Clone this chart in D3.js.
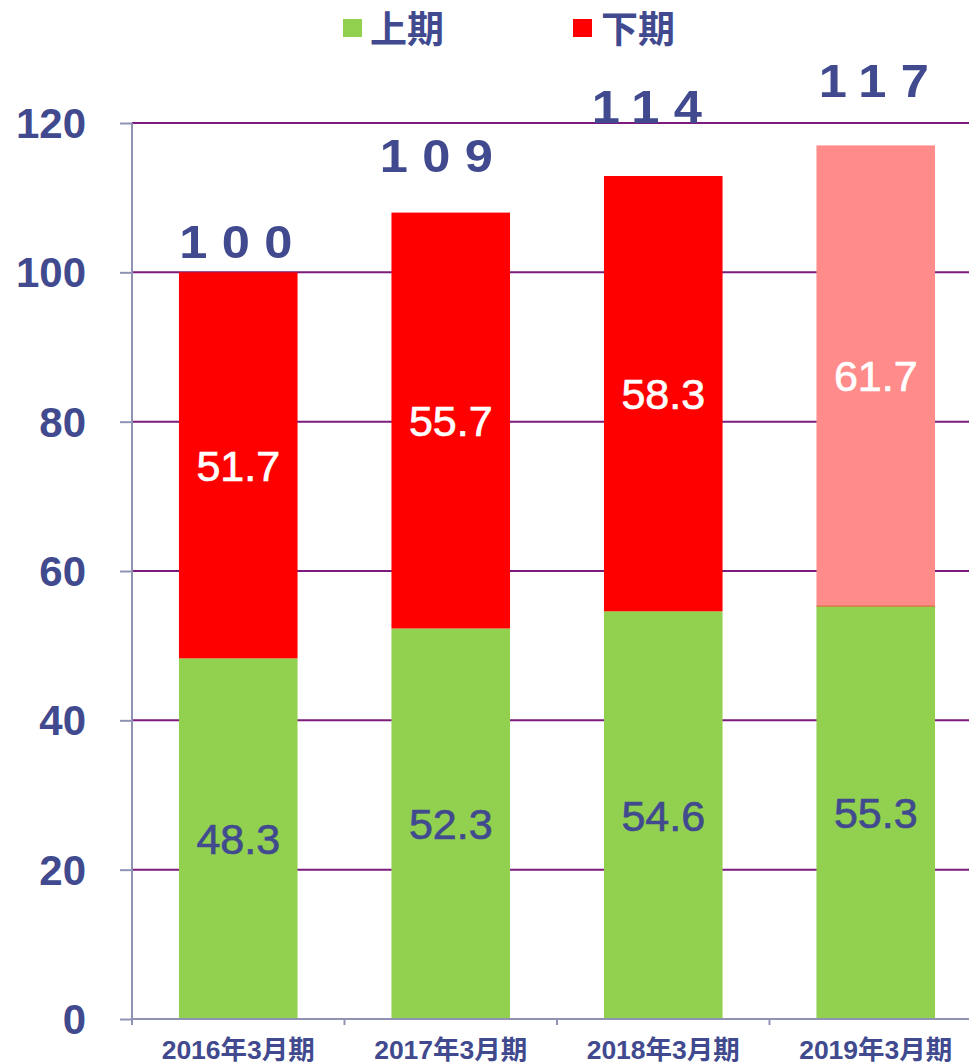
<!DOCTYPE html>
<html>
<head>
<meta charset="utf-8">
<script src="https://cdn.jsdelivr.net/npm/d3@7"></script>
<style>
  html, body { margin: 0; padding: 0; background: #fff; }
  svg { display: block; }
  text { font-family: "Liberation Sans", Arial, "Noto Sans CJK JP", sans-serif; }
</style>
</head>
<body>
<svg id="chart" width="969" height="1064"></svg>
<script>
// ---- data ----
const categories = ["2016年3月期", "2017年3月期", "2018年3月期", "2019年3月期"];
const seriesNames = ["上期", "下期"];
const firstHalf = [48.3, 52.3, 54.6, 55.3];
const secondHalf = [51.7, 55.7, 58.3, 61.7];
const totalLabels = ["100", "109", "114", "117"];
const isForecast = [false, false, false, true];
const yTicks = [0, 20, 40, 60, 80, 100, 120];

// ---- layout / style ----
const W = 969, H = 1064;
const margin = { left: 132, right: -13, top: 123, bottom: 45 };
const textColor = "#414a8e";
const colors = { first: "#92d050", second: "#ff0000", secondForecast: "#ff8b8b" };
const totalLabelLift = [14, 41, 53, 48];
const totalLabelShift = [-2.5, -14.5, -16.5, -2];

const svg = d3.select("#chart");
const x = d3.scaleBand().domain(categories)
  .range([margin.left, W - margin.right]).paddingInner(0).paddingOuter(0);
const barPad = 0.442;
const y = d3.scaleLinear().domain([0, 120]).range([H - margin.bottom, margin.top]);

const rows = categories.map((c, i) => ({
  cat: c, a: firstHalf[i], b: secondHalf[i], total: totalLabels[i], fc: isForecast[i], i
}));

// gridlines
svg.append("g").selectAll("line").data(yTicks.filter(d => d > 0)).join("line")
  .attr("x1", margin.left).attr("x2", W)
  .attr("y1", d => y(d)).attr("y2", d => y(d))
  .attr("stroke", "#7d1a7d").attr("stroke-width", 2);

const bw = x.bandwidth() * (1 - barPad);
const bx = d => x(d.cat) + (x.bandwidth() - bw) / 2;

const bars = svg.append("g");
bars.selectAll("rect.a").data(rows).join("rect").attr("class", "a")
  .attr("x", bx).attr("width", bw)
  .attr("y", d => y(d.a)).attr("height", d => y(0) - y(d.a))
  .attr("fill", colors.first);
bars.selectAll("rect.b").data(rows).join("rect").attr("class", "b")
  .attr("x", bx).attr("width", bw)
  .attr("y", d => y(d.a + d.b)).attr("height", d => y(d.a) - y(d.a + d.b))
  .attr("fill", d => d.fc ? colors.secondForecast : colors.second);
bars.selectAll("line.fc").data(rows.filter(d => d.fc)).join("line").attr("class", "fc")
  .attr("x1", bx).attr("x2", d => bx(d) + bw)
  .attr("y1", d => y(d.a)).attr("y2", d => y(d.a))
  .attr("stroke", "#d8703c").attr("stroke-width", 1.2);

// y axis
const yAxis = d3.axisLeft(y).tickValues(yTicks).tickSize(12).tickFormat("");
const gy = svg.append("g").attr("transform", `translate(${margin.left},0)`).call(yAxis);
gy.select(".domain").remove();
gy.selectAll(".tick line").attr("stroke", "#9092b4").attr("stroke-width", 2);
svg.append("line").attr("x1", margin.left).attr("x2", margin.left)
  .attr("y1", y(120)).attr("y2", y(0) + 6)
  .attr("stroke", "#9092b4").attr("stroke-width", 2);

svg.append("g").selectAll("text").data(yTicks).join("text")
  .attr("x", 86).attr("y", d => y(d))
  .attr("dy", "0.36em")
  .attr("text-anchor", "end")
  .attr("font-size", 42).attr("font-weight", "bold")
  .attr("fill", textColor)
  .text(d => d);

// x axis
svg.append("line").attr("x1", margin.left).attr("x2", W)
  .attr("y1", y(0)).attr("y2", y(0))
  .attr("stroke", "#9092b4").attr("stroke-width", 2);
const bounds = categories.map(c => x(c));
svg.append("g").selectAll("line").data(bounds).join("line")
  .attr("x1", d => d).attr("x2", d => d)
  .attr("y1", y(0)).attr("y2", y(0) + 6)
  .attr("stroke", "#9092b4").attr("stroke-width", 2);

svg.append("g").selectAll("text").data(categories).join("text")
  .attr("x", d => x(d) + x.bandwidth() / 2).attr("y", 1059)
  .attr("text-anchor", "middle")
  .attr("font-size", 26.5).attr("font-weight", "bold")
  .attr("fill", textColor)
  .text(d => d);

// segment labels
const lab = svg.append("g").attr("font-size", 43);
lab.selectAll("text.a").data(rows).join("text").attr("class", "a")
  .attr("x", d => bx(d) + bw / 2).attr("y", d => (y(0) + y(d.a)) / 2)
  .attr("dy", "0.36em").attr("text-anchor", "middle")
  .attr("fill", textColor).attr("stroke", textColor).attr("stroke-width", 0.7)
  .text(d => d.a.toFixed(1));
lab.selectAll("text.b").data(rows).join("text").attr("class", "b")
  .attr("x", d => bx(d) + bw / 2).attr("y", d => (y(d.a) + y(d.a + d.b)) / 2)
  .attr("dy", "0.36em").attr("text-anchor", "middle")
  .attr("fill", "#ffffff").attr("stroke", "#ffffff").attr("stroke-width", 0.7)
  .text(d => d.b.toFixed(1));

// total labels
svg.append("g").selectAll("text").data(rows).join("text")
  .attr("transform", d => {
    const cx = bx(d) + bw / 2 + totalLabelShift[d.i];
    const cy = y(d.a + d.b) - totalLabelLift[d.i];
    return `translate(${cx},${cy}) scale(1.1,1)`;
  })
  .attr("x", 6.5).attr("y", 0)
  .attr("text-anchor", "middle")
  .attr("font-size", 46).attr("font-weight", "bold")
  .attr("letter-spacing", 13)
  .attr("fill", textColor)
  .text(d => d.total);

// legend
const legend = svg.append("g");
const legendItems = [
  { name: seriesNames[0], color: colors.first, x: 343, tx: 370 },
  { name: seriesNames[1], color: colors.second, x: 573, tx: 601 }
];
legend.selectAll("rect").data(legendItems).join("rect")
  .attr("x", d => d.x).attr("y", 19).attr("width", 19).attr("height", 18)
  .attr("fill", d => d.color);
legend.selectAll("text").data(legendItems).join("text")
  .attr("x", d => d.tx).attr("y", 43)
  .attr("font-size", 37).attr("font-weight", "bold")
  .style("font-family", "'Noto Sans CJK JP', sans-serif")
  .attr("fill", textColor)
  .text(d => d.name);
</script>
</body>
</html>
